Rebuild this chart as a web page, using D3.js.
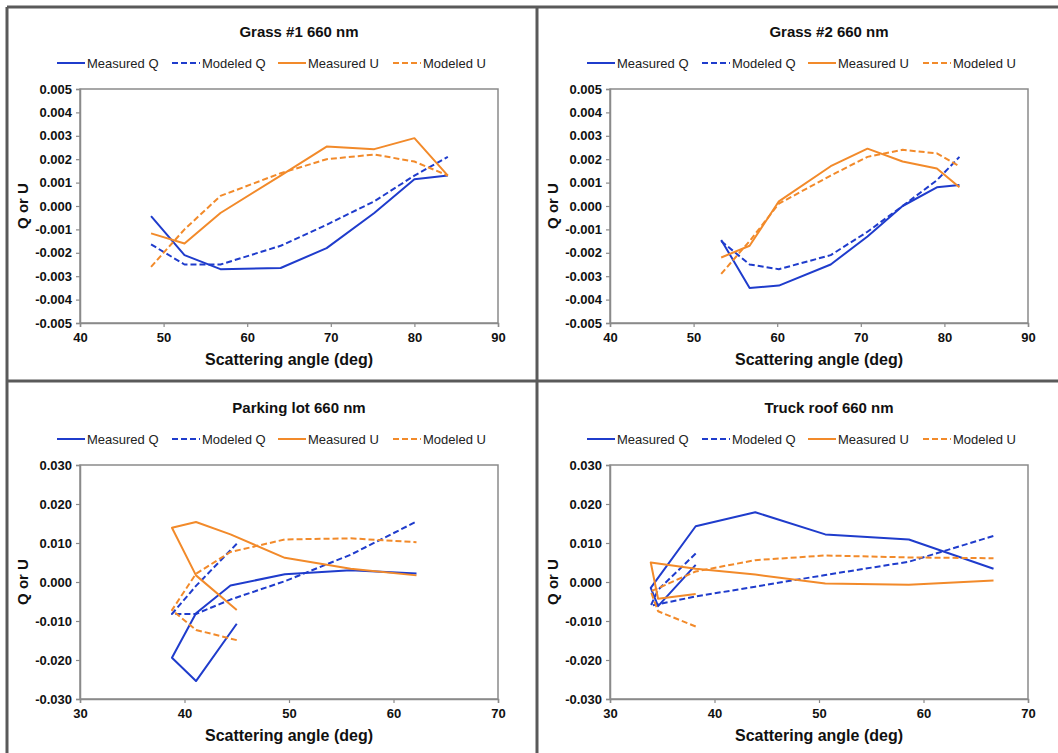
<!DOCTYPE html>
<html>
<head>
<meta charset="utf-8">
<script src="https://cdn.jsdelivr.net/npm/d3@7"></script>
<style>
  body { margin: 0; background: #fff; }
  svg { display: block; font-family: "Liberation Sans", Arial, sans-serif; }
</style>
</head>
<body>
<svg id="chart" width="1058" height="753"></svg>
<script>
// scattering angles (deg) and Q/U values
const grass1Angle = [48.5, 52.5, 56.8, 64.0, 69.5, 75.2, 80.0, 84.0];
const grass1MeasQ = [-0.00043, -0.0021, -0.0027, -0.00265, -0.0018, -0.0003, 0.00114, 0.0013];
const grass1ModQ  = [-0.00164, -0.0025, -0.0025, -0.0017, -0.0008, 0.0002, 0.0013, 0.0021];
const grass1MeasU = [-0.00117, -0.0016, -0.0003, 0.0013, 0.00254, 0.00243, 0.0029, 0.0013];
const grass1ModU  = [-0.0026, -0.001, 0.00043, 0.0014, 0.002, 0.0022, 0.0019, 0.0013];

const grass2Angle = [53.3, 56.7, 60.2, 66.4, 70.8, 75.0, 79.1, 81.8];
const grass2MeasQ = [-0.00145, -0.0035, -0.0034, -0.0025, -0.0013, 0.0, 0.0008, 0.0009];
const grass2ModQ  = [-0.0015, -0.0025, -0.0027, -0.0021, -0.0011, 0.0, 0.0011, 0.0021];
const grass2MeasU = [-0.0022, -0.0017, 0.0002, 0.0017, 0.00245, 0.0019, 0.0016, 0.0008];
const grass2ModU  = [-0.0029, -0.0015, 0.0001, 0.0013, 0.0021, 0.0024, 0.00225, 0.0017];

const parkingAngle = [45.0, 41.1, 38.8, 41.1, 44.4, 49.6, 55.9, 62.2];
const parkingMeasQ = [-0.0107, -0.0254, -0.0194, -0.008, -0.0009, 0.002, 0.003, 0.0022];
const parkingModQ  = [0.0098, -0.001, -0.0082, -0.0082, -0.0045, 0.0002, 0.007, 0.0155];
const parkingMeasU = [-0.0072, 0.0017, 0.0139, 0.0154, 0.0122, 0.0062, 0.0034, 0.0017];
const parkingModU  = [-0.0149, -0.0123, -0.0072, 0.0021, 0.0077, 0.0109, 0.0112, 0.0102];

const truckAngle = [38.2, 34.6, 33.9, 38.2, 43.9, 50.6, 58.6, 66.7];
const truckMeasQ = [0.0044, -0.0062, -0.0015, 0.0143, 0.0179, 0.0122, 0.0109, 0.0034];
const truckModQ  = [0.0073, -0.002, -0.0061, -0.0037, -0.0012, 0.0018, 0.0052, 0.0118];
const truckMeasU = [-0.0031, -0.0043, 0.0050, 0.0034, 0.0019, -0.0004, -0.0007, 0.0004];
const truckModU  = [-0.0114, -0.0075, -0.0024, 0.0027, 0.0056, 0.0068, 0.0063, 0.0061];

const titles = ['Grass #1 660 nm', 'Grass #2 660 nm', 'Parking lot 660 nm', 'Truck roof 660 nm'];
const seriesNames = ['Measured Q', 'Modeled Q', 'Measured U', 'Modeled U'];
const xDomains = [[40, 90], [40, 90], [30, 70], [30, 70]];
const yDomains = [[-0.005, 0.005], [-0.005, 0.005], [-0.03, 0.03], [-0.03, 0.03]];
const yTickSteps = [0.001, 0.001, 0.01, 0.01];

const BLUE = '#1f3ccc';
const ORANGE = '#f28a2a';
const FRAME = '#5a5a5a';
const AXIS = '#8a8a8a';

const seriesStyle = [
  { color: BLUE, dash: null },
  { color: BLUE, dash: '6,3' },
  { color: ORANGE, dash: null },
  { color: ORANGE, dash: '6,3' }
];

const panels = [
  { angle: grass1Angle, values: [grass1MeasQ, grass1ModQ, grass1MeasU, grass1ModU], ox: 0, oy: 0 },
  { angle: grass2Angle, values: [grass2MeasQ, grass2ModQ, grass2MeasU, grass2ModU], ox: 530, oy: 0 },
  { angle: parkingAngle, values: [parkingMeasQ, parkingModQ, parkingMeasU, parkingModU], ox: 0, oy: 376 },
  { angle: truckAngle, values: [truckMeasQ, truckModQ, truckMeasU, truckModU], ox: 530, oy: 376 }
];

const svg = d3.select('#chart');

const PLOT_LEFT = 80, PLOT_RIGHT = 498, PLOT_TOP = 89, PLOT_BOTTOM = 323;

function fmt(v) {
  return d3.format('.3f')(v).replace('\u2212', '-');
}

panels.forEach((p, i) => {
  const g = svg.append('g').attr('transform', `translate(${p.ox},${p.oy})`);

  const x = d3.scaleLinear().domain(xDomains[i]).range([PLOT_LEFT, PLOT_RIGHT]);
  const y = d3.scaleLinear().domain(yDomains[i]).range([PLOT_BOTTOM, PLOT_TOP]);

  // title
  g.append('text')
    .attr('x', 299).attr('y', 37)
    .attr('text-anchor', 'middle')
    .attr('font-size', 15).attr('font-weight', 'bold')
    .attr('fill', '#111')
    .text(titles[i]);

  // legend
  const legendX = [57, 172, 278, 393];
  seriesNames.forEach((name, k) => {
    const lg = g.append('g').attr('transform', `translate(${legendX[k]},63)`);
    lg.append('line')
      .attr('x1', 0).attr('x2', 28).attr('y1', 0).attr('y2', 0)
      .attr('stroke', seriesStyle[k].color)
      .attr('stroke-width', 2)
      .attr('stroke-dasharray', seriesStyle[k].dash);
    lg.append('text')
      .attr('x', 30).attr('y', 4.5)
      .attr('font-size', 13)
      .attr('fill', '#222')
      .text(name);
  });

  // plot area border
  g.append('rect')
    .attr('x', PLOT_LEFT).attr('y', PLOT_TOP)
    .attr('width', PLOT_RIGHT - PLOT_LEFT).attr('height', PLOT_BOTTOM - PLOT_TOP)
    .attr('fill', 'none').attr('stroke', AXIS).attr('stroke-width', 1.5);

  // axes
  const yTicks = d3.range(yDomains[i][0], yDomains[i][1] + yTickSteps[i] / 2, yTickSteps[i]);
  const yAxis = d3.axisLeft(y).tickValues(yTicks).tickFormat(fmt).tickSize(4).tickPadding(4);
  const xAxis = d3.axisBottom(x).ticks(4).tickFormat(d3.format('d')).tickSize(4).tickPadding(6);

  const ya = g.append('g').attr('transform', `translate(${PLOT_LEFT},0)`).call(yAxis);
  const xa = g.append('g').attr('transform', `translate(0,${PLOT_BOTTOM})`).call(xAxis);
  [ya, xa].forEach(a => {
    a.select('.domain').attr('stroke', AXIS).attr('stroke-width', 1.5);
    a.selectAll('.tick line').attr('stroke', AXIS).attr('stroke-width', 1.2);
    a.selectAll('.tick text')
      .attr('font-size', 13).attr('font-weight', 'bold')
      .attr('fill', '#111')
      .attr('font-family', '"Liberation Sans", Arial, sans-serif');
  });

  // axis titles
  g.append('text')
    .attr('x', (PLOT_LEFT + PLOT_RIGHT) / 2).attr('y', 365)
    .attr('text-anchor', 'middle')
    .attr('font-size', 16).attr('font-weight', 'bold')
    .attr('fill', '#111')
    .text('Scattering angle (deg)');
  g.append('text')
    .attr('transform', `translate(28,${(PLOT_TOP + PLOT_BOTTOM) / 2}) rotate(-90)`)
    .attr('text-anchor', 'middle')
    .attr('font-size', 15).attr('font-weight', 'bold')
    .attr('fill', '#111')
    .text('Q or U');

  // series lines
  const line = d3.line()
    .x(d => x(d[0]))
    .y(d => y(d[1]));

  p.values.forEach((vals, k) => {
    const pts = p.angle.map((a, j) => [a, vals[j]]);
    g.append('path')
      .datum(pts)
      .attr('d', line)
      .attr('fill', 'none')
      .attr('stroke', seriesStyle[k].color)
      .attr('stroke-width', 2)
      .attr('stroke-linejoin', 'round')
      .attr('stroke-dasharray', seriesStyle[k].dash);
  });
});

// panel frame lines
const frame = [
  [7, 7, 1058, 7],
  [7, 7, 7, 753],
  [537, 7, 537, 753],
  [7, 381, 1058, 381]
];
svg.selectAll('line.frame')
  .data(frame)
  .enter()
  .append('line')
  .attr('class', 'frame')
  .attr('x1', d => d[0]).attr('y1', d => d[1])
  .attr('x2', d => d[2]).attr('y2', d => d[3])
  .attr('stroke', FRAME)
  .attr('stroke-width', 3);
</script>
</body>
</html>
